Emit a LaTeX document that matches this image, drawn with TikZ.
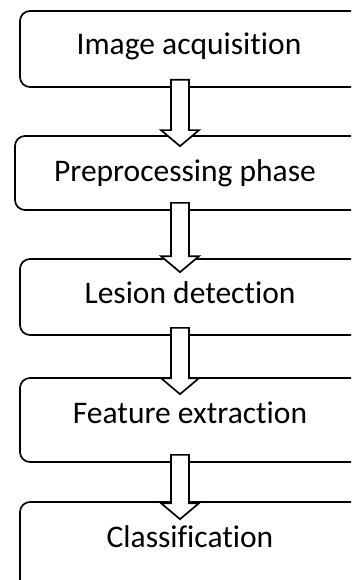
\documentclass[tikz,border=0pt]{standalone}
\usepackage{fontspec}
\setmainfont{Carlito}[Ligatures={NoCommon,NoDiscretionary,NoRare,NoContextual}]
\usetikzlibrary{calc}
\tikzset{
  stagebox/.style={draw=black, line width=1.7pt, rounded corners=10pt, rectangle, inner sep=0pt},
  stagetext/.style={font=\fontsize{31.5}{38}\selectfont, inner sep=0pt, anchor=base},
  blockarrow/.style={draw=black, fill=white, line width=1.7pt, line join=miter},
}
\newcommand{\flowarrow}[3]{%
  \draw[blockarrow] let \p1=(#1.south), \p2=(#2.north) in
    (171pt,\y1+8pt) -- (189pt,\y1+8pt) -- (189pt,\y2-#3pt+16pt) -- (199pt,\y2-#3pt+16pt)
    -- (180pt,\y2-#3pt) -- (161pt,\y2-#3pt+16pt) -- (171pt,\y2-#3pt+16pt) -- cycle;}
\begin{document}
\begin{tikzpicture}[x=1pt,y=-1pt]
  \useasboundingbox (0,0) rectangle (351,580);
  \clip (0,0) rectangle (351,580);
  \fill[white] (0,0) rectangle (351,580);
  % boxes
  \node[stagebox, minimum width=360pt, minimum height=76pt] (b1) at (200,49) {};
  \node[stagebox, minimum width=365pt, minimum height=74pt] (b2) at (197.5,173) {};
  \node[stagebox, minimum width=360pt, minimum height=76pt] (b3) at (200,297) {};
  \node[stagebox, minimum width=360pt, minimum height=84pt] (b4) at (200,420) {};
  \node[stagebox, minimum width=360pt, minimum height=88pt] (b5) at (200,546) {};
  % arrows
  \flowarrow{b1}{b2}{11}
  \flowarrow{b2}{b3}{14}
  \flowarrow{b3}{b4}{17}
  \flowarrow{b4}{b5}{18}
  % texts
  \node[stagetext] (t1) at (189,55) {Image acquisition};
  \node[stagetext] (t2) at (185,182) {Preprocessing phase};
  \node[stagetext] (t3) at (190,303) {Lesion detection};
  \node[stagetext] (t4) at (190,423) {Feature extraction};
  \node[stagetext] (t5) at (190,547) {Classification};
\end{tikzpicture}
\end{document}
